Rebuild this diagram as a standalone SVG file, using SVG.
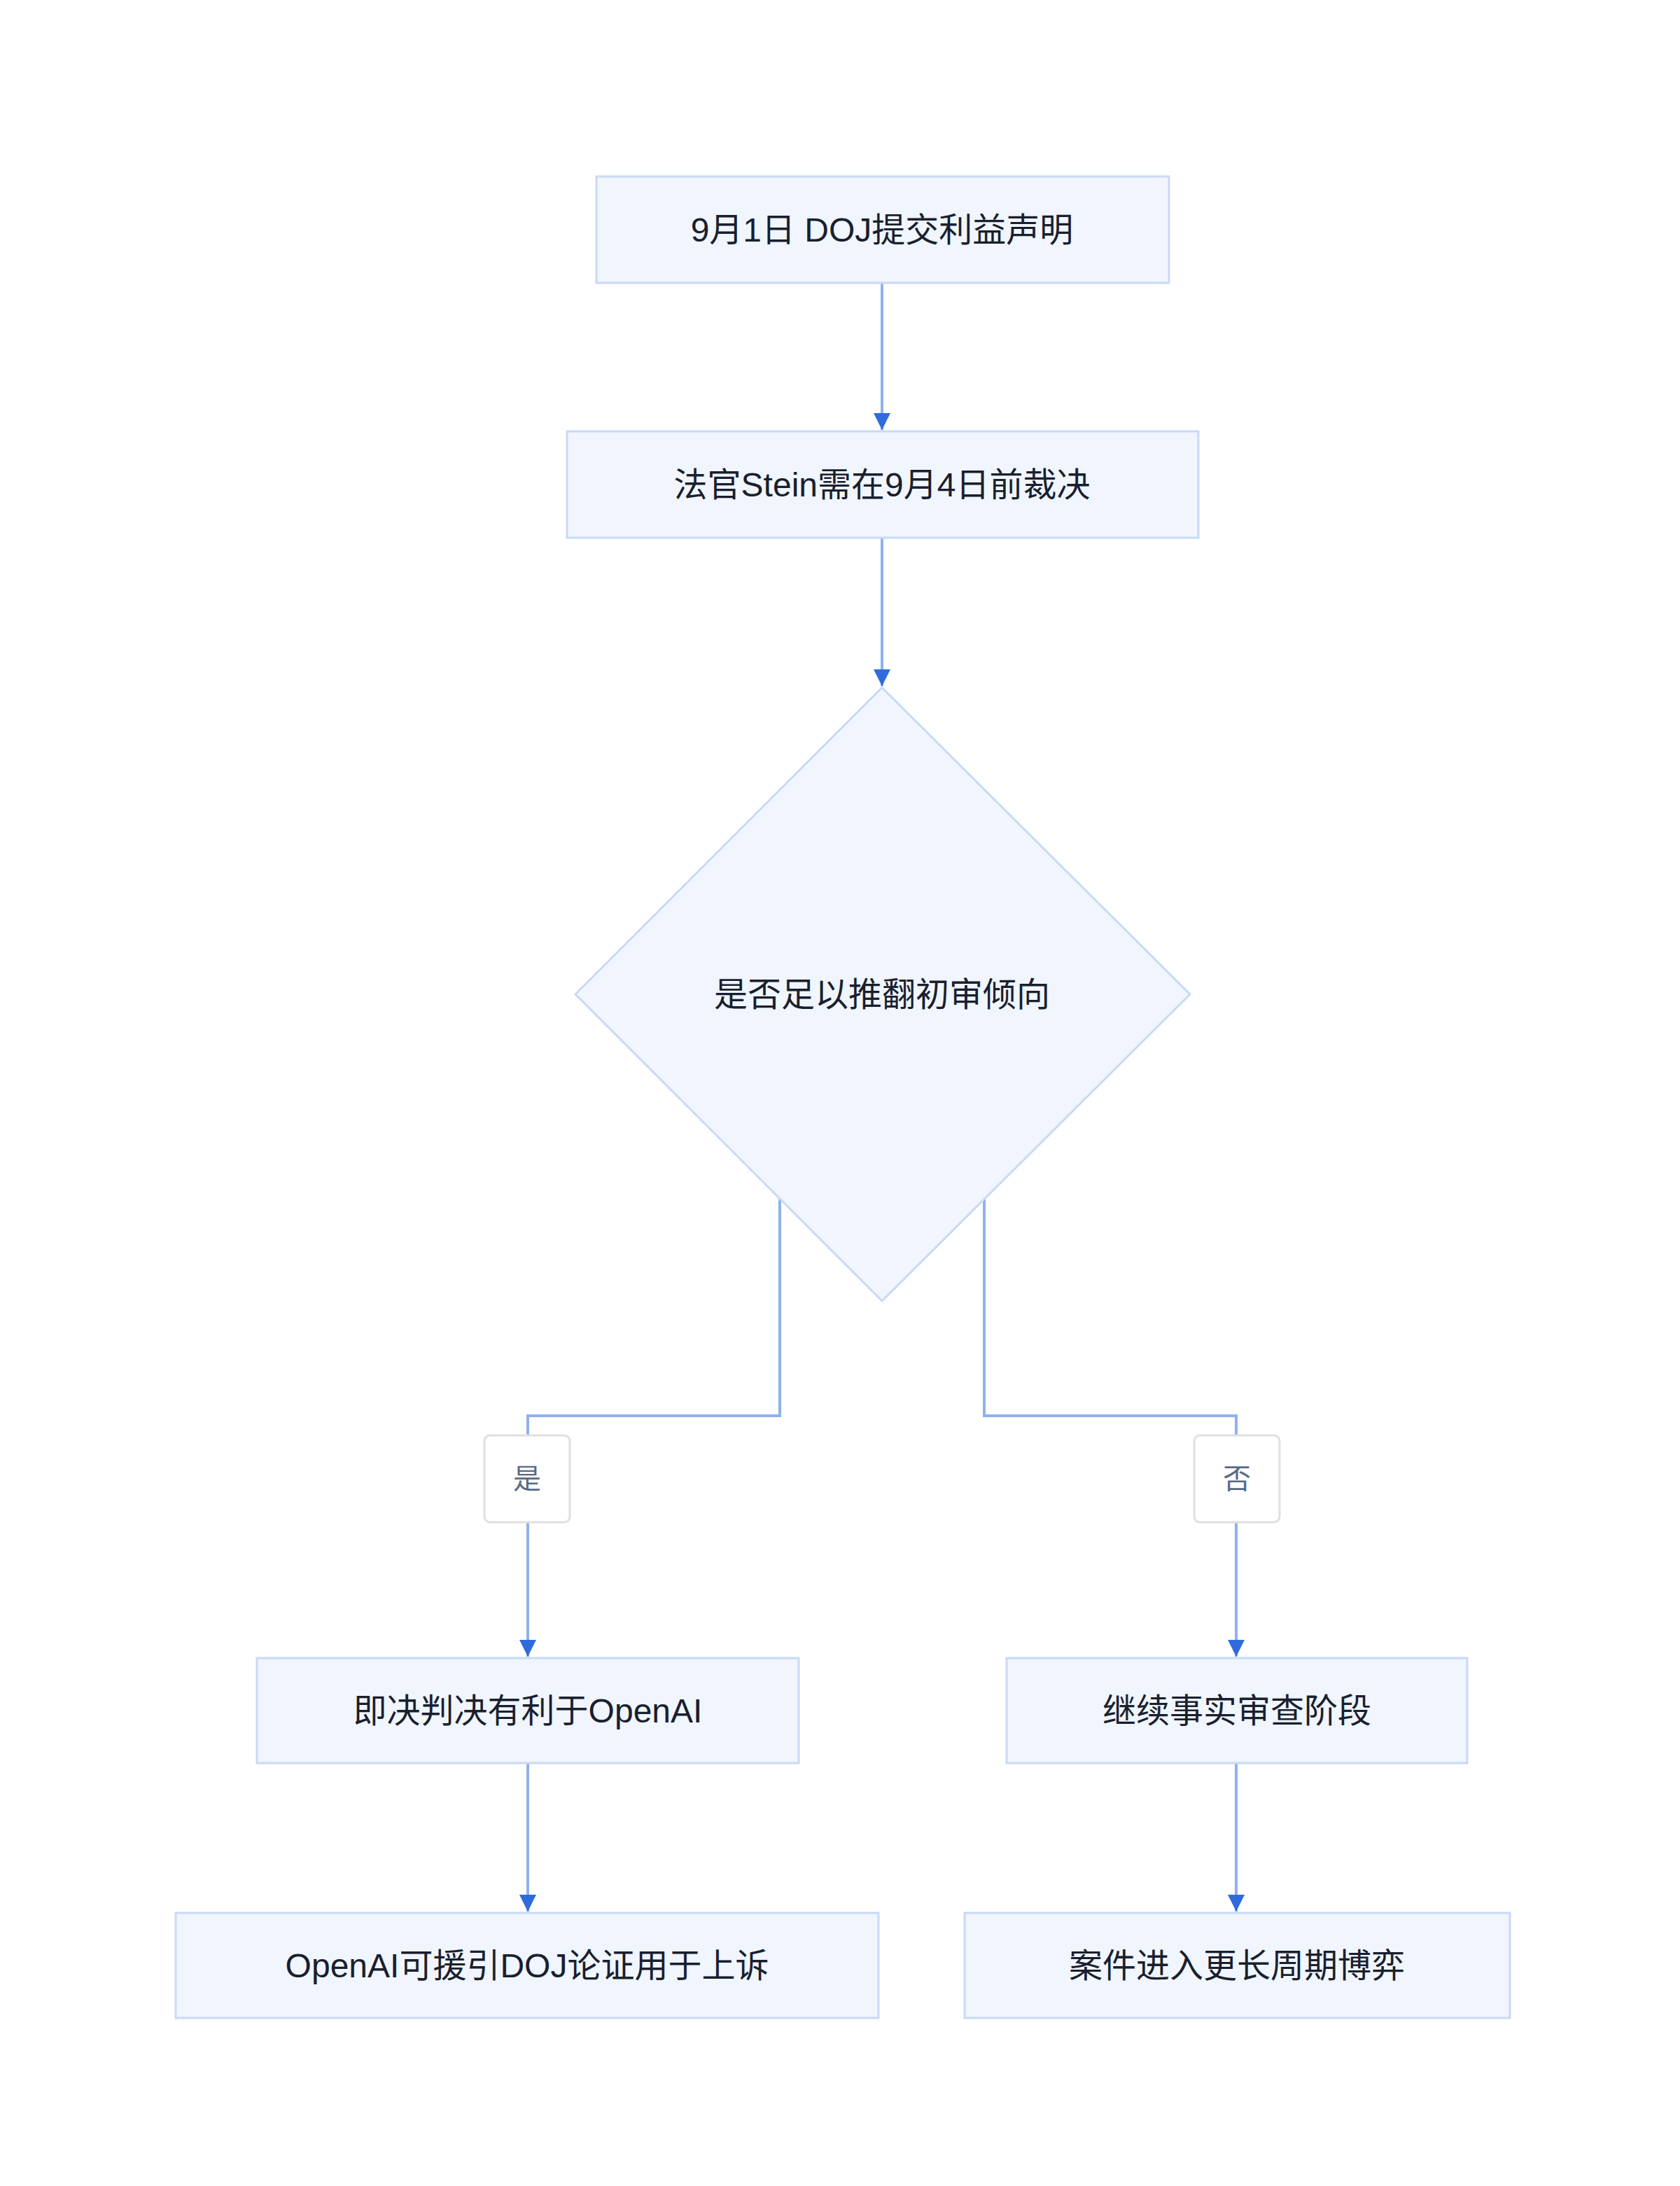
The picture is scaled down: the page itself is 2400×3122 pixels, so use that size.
<svg xmlns="http://www.w3.org/2000/svg" width="2400" height="3122" viewBox="0 0 2400 3122">
<style>
.n{fill:#f0f5fe;stroke:#c9d9f5;stroke-width:3}
.t{font-family:"Liberation Sans","Noto Sans CJK SC",sans-serif;font-size:48px;fill:#1a1f2e;text-anchor:middle;dominant-baseline:central}
.e{fill:none;stroke:#8fb1ee;stroke-width:4}
.lb{fill:#fff;stroke:#e0e0e0;stroke-width:3}
.lt{font-family:"Liberation Sans","Noto Sans CJK SC",sans-serif;font-size:40px;fill:#5a6a85;text-anchor:middle;dominant-baseline:central}
</style>
<defs><marker id="a" viewBox="0 0 10 10" refX="10" refY="5" markerWidth="6" markerHeight="6" markerUnits="strokeWidth" orient="auto"><path d="M0,0L10,5L0,10z" fill="#2f6bdc"/></marker></defs>
<rect width="2400" height="3122" fill="#fff"/>
<g id="edges">
<path class="e" d="M1260,404V614" marker-end="url(#a)"/>
<path class="e" d="M1260,768V980" marker-end="url(#a)"/>
<path class="e" d="M1114,1712V2022H754V2366" marker-end="url(#a)"/>
<path class="e" d="M1406,1712V2022H1766V2366" marker-end="url(#a)"/>
<path class="e" d="M754,2518V2730" marker-end="url(#a)"/>
<path class="e" d="M1766,2518V2730" marker-end="url(#a)"/>
</g>
<g id="n1"><rect class="n" x="852" y="252" width="818" height="152"/><text class="t" x="1260" y="328">9月1日 DOJ提交利益声明</text></g>
<g id="n2"><rect class="n" x="810" y="616" width="902" height="152"/><text class="t" x="1260" y="692">法官Stein需在9月4日前裁决</text></g>
<g id="n3"><path class="n" d="M1260,982L1700,1420L1260,1858L822,1420Z"/><text class="t" x="1260" y="1420">是否足以推翻初审倾向</text></g>
<g id="l1"><rect class="lb" x="692" y="2050" width="122" height="124" rx="8"/><text class="lt" x="753" y="2112">是</text></g>
<g id="l2"><rect class="lb" x="1706" y="2050" width="122" height="124" rx="8"/><text class="lt" x="1767" y="2112">否</text></g>
<g id="n4"><rect class="n" x="367" y="2368" width="774" height="150"/><text class="t" x="754" y="2443">即决判决有利于OpenAI</text></g>
<g id="n5"><rect class="n" x="1438" y="2368" width="658" height="150"/><text class="t" x="1767" y="2443">继续事实审查阶段</text></g>
<g id="n6"><rect class="n" x="251" y="2732" width="1004" height="150"/><text class="t" x="753" y="2807">OpenAI可援引DOJ论证用于上诉</text></g>
<g id="n7"><rect class="n" x="1378" y="2732" width="779" height="150"/><text class="t" x="1767" y="2807">案件进入更长周期博弈</text></g>
</svg>
